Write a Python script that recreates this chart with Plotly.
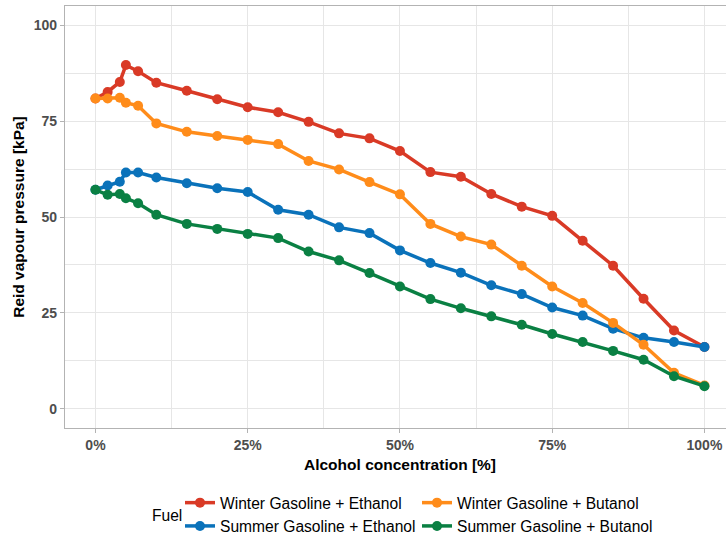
import plotly.graph_objects as go

alcohol_pct = [0, 2, 4, 5, 7, 10, 15, 20, 25, 30, 35, 40, 45, 50, 55, 60, 65, 70, 75, 80, 85, 90, 95, 100]

winter_ethanol = [80.9, 82.6, 85.2, 89.6, 88.0, 85.0, 82.9, 80.7, 78.6, 77.3, 74.8, 71.8, 70.5, 67.2,
                  61.7, 60.5, 56.0, 52.7, 50.3, 43.8, 37.3, 28.7, 20.4, 16.1]
summer_ethanol = [57.1, 58.2, 59.2, 61.6, 61.6, 60.3, 58.8, 57.5, 56.5, 51.9, 50.6, 47.3, 45.8, 41.3,
                  38.0, 35.5, 32.2, 29.9, 26.4, 24.3, 20.9, 18.5, 17.4, 16.1]
winter_butanol = [80.9, 80.9, 81.1, 79.8, 79.0, 74.4, 72.2, 71.1, 70.1, 69.0, 64.6, 62.4, 59.1, 55.9,
                  48.2, 44.9, 42.8, 37.3, 31.9, 27.6, 22.4, 16.7, 9.4, 6.1]
summer_butanol = [57.1, 55.8, 56.0, 54.9, 53.6, 50.6, 48.2, 46.9, 45.6, 44.5, 41.0, 38.7, 35.4, 31.9,
                  28.6, 26.2, 24.1, 21.9, 19.5, 17.4, 15.1, 12.8, 8.5, 5.9]

series_names = ["Winter Gasoline + Ethanol", "Summer Gasoline + Ethanol",
                "Winter Gasoline + Butanol", "Summer Gasoline + Butanol"]
series_values = [winter_ethanol, summer_ethanol, winter_butanol, summer_butanol]
series_colors = ["#D93A26", "#0A72BA", "#FF8C1A", "#0A8043"]
legend_ranks = [1, 3, 2, 4]

x_ticks = [0, 25, 50, 75, 100]
x_tick_labels = ["0%", "25%", "50%", "75%", "100%"]
y_ticks = [0, 25, 50, 75, 100]

FONT = "Liberation Sans, Arial, sans-serif"

fig = go.Figure()
for name, vals, col, rank in zip(series_names, series_values, series_colors, legend_ranks):
    fig.add_trace(go.Scatter(
        x=alcohol_pct, y=vals, name=name, mode="lines+markers",
        line=dict(color=col, width=3.5),
        marker=dict(color=col, size=10),
        legendrank=rank,
    ))

W, H = 726, 535
ml, mt, mb = 65, 6, 107
px_per_unit = 6.09
x_right = -5 + (W - ml) / px_per_unit

grid = "#e6e6e6"
border = "#b3b3b3"

fig.update_layout(
    width=W, height=H,
    margin=dict(l=ml, r=0, t=mt, b=mb, pad=0, autoexpand=False),
    paper_bgcolor="white", plot_bgcolor="white",
    font=dict(family=FONT, color="black"),
    showlegend=True,
    legend=dict(
        orientation="h", xref="container", yref="container",
        x=180 / W, xanchor="left",
        y=1 - 486 / H, yanchor="top",
        entrywidth=192, entrywidthmode="pixels",
        font=dict(size=15.6, family=FONT, color="black"),
        bgcolor="rgba(0,0,0,0)", itemclick=False,
        tracegroupgap=0,
    ),
    xaxis=dict(
        range=[-5, x_right], tickvals=x_ticks, ticktext=x_tick_labels,
        showgrid=True, gridcolor=grid, gridwidth=1,
        minor=dict(dtick=12.5, tick0=12.5, showgrid=True, gridcolor=grid, gridwidth=0.6),
        zeroline=False, showline=True, linecolor=border, linewidth=1.2, mirror=True,
        ticks="outside", ticklen=4, tickcolor=border, tickwidth=1,
        tickfont=dict(size=14, color="#4d4d4d", weight="bold", family=FONT),
        fixedrange=True, automargin=False,
    ),
    yaxis=dict(
        range=[-5, 105], tickvals=y_ticks,
        showgrid=True, gridcolor=grid, gridwidth=1,
        minor=dict(dtick=12.5, tick0=12.5, showgrid=True, gridcolor=grid, gridwidth=0.6),
        zeroline=False, showline=True, linecolor=border, linewidth=1.2, mirror=False,
        ticks="outside", ticklen=4, tickcolor=border, tickwidth=1,
        tickfont=dict(size=14, color="#4d4d4d", weight="bold", family=FONT),
        title=dict(text="Reid vapour pressure [kPa]", standoff=5,
                   font=dict(size=15.5, weight="bold", family=FONT, color="black")),
        fixedrange=True, automargin=False,
    ),
    annotations=[
        dict(text="Alcohol concentration [%]", xref="paper", yref="paper",
             x=(400 - ml) / (W - ml), y=-(464 - 428) / (428 - mt), xanchor="center", yanchor="middle",
             showarrow=False, font=dict(size=15.5, weight="bold", family=FONT, color="black")),
        dict(text="Fuel", xref="paper", yref="paper",
             x=(167 - ml) / (W - ml), y=-(515 - 428) / (428 - mt), xanchor="center", yanchor="middle",
             showarrow=False, font=dict(size=15.6, family=FONT, color="black")),
    ],
)

fig.write_html("out.html")
